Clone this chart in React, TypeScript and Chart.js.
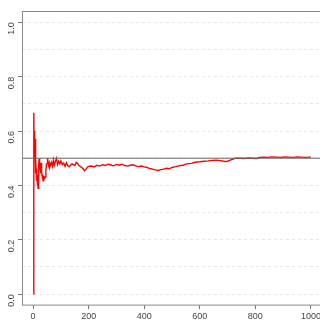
import React, { useEffect, useRef } from "react";
import { Chart, registerables } from "chart.js";

Chart.register(...registerables);

// Running proportion: trial number and proportion
const trialN = [
  1, 2, 3, 4, 5, 6, 7, 8, 9, 10, 11, 12, 13, 14, 15, 16, 17, 18, 19, 20,
  21, 22, 23, 24, 25, 26, 27, 28, 29, 30, 31, 32, 33, 34, 35, 36, 37, 38, 39, 40,
  42, 44, 46, 48, 50, 52, 55, 58, 60, 63, 66, 70, 73, 76, 80, 84, 88, 92, 96, 100,
  105, 110, 115, 120, 125, 130, 135, 140, 145, 150, 155, 160, 165, 170, 175, 180, 185, 190, 195, 200,
  210, 220, 230, 240, 250, 260, 270, 280, 290, 300, 310, 320, 330, 340, 350, 360, 370, 380, 390, 400,
  410, 420, 430, 440, 450, 460, 470, 480, 490, 500, 510, 520, 530, 540, 550, 560, 570, 580, 590, 600,
  615, 630, 645, 660, 675, 690, 700, 710, 720, 730, 745, 760, 775, 790, 805, 815, 830, 845, 860, 875,
  890, 905, 920, 935, 950, 965, 980, 1000,
];
const proportion = [
  0, 0.5, 0.667, 0.5, 0.6, 0.5, 0.571, 0.5, 0.444, 0.5, 0.455, 0.417, 0.462, 0.429, 0.4, 0.438, 0.412, 0.389, 0.421, 0.45,
  0.476, 0.5, 0.478, 0.458, 0.48, 0.462, 0.444, 0.464, 0.483, 0.467, 0.452, 0.438, 0.424, 0.441, 0.429, 0.417, 0.432, 0.421, 0.436, 0.425,
  0.429, 0.432, 0.457, 0.479, 0.48, 0.5, 0.473, 0.483, 0.467, 0.476, 0.485, 0.471, 0.493, 0.474, 0.488, 0.5, 0.477, 0.489, 0.479, 0.49,
  0.476, 0.482, 0.47, 0.483, 0.472, 0.469, 0.474, 0.479, 0.476, 0.473, 0.484, 0.481, 0.473, 0.47, 0.466, 0.461, 0.454, 0.458, 0.467, 0.47,
  0.471, 0.468, 0.474, 0.471, 0.476, 0.473, 0.478, 0.475, 0.472, 0.477, 0.474, 0.478, 0.473, 0.471, 0.474, 0.476, 0.472, 0.469, 0.471, 0.468,
  0.466, 0.462, 0.46, 0.457, 0.455, 0.458, 0.46, 0.463, 0.461, 0.466, 0.468, 0.471, 0.473, 0.474, 0.478, 0.48, 0.481, 0.484, 0.486, 0.487,
  0.489, 0.49, 0.492, 0.493, 0.491, 0.488, 0.489, 0.493, 0.497, 0.5, 0.5, 0.499, 0.501, 0.5, 0.499, 0.503, 0.504, 0.503, 0.505, 0.504,
  0.503, 0.505, 0.504, 0.503, 0.505, 0.504, 0.503, 0.504,
];
const referenceLevel = 0.5;
const xTickValues = [0, 200, 400, 600, 800, 1000];
const yGridValues = [0, 0.1, 0.2, 0.3, 0.4, 0.5, 0.6, 0.7, 0.8, 0.9, 1.0];
const yLabelValues = [0, 0.2, 0.4, 0.6, 0.8, 1.0];

const boxPlugin = {
  id: "boxPlugin",
  afterDraw(chart: any) {
    const { ctx, chartArea } = chart;
    ctx.save();
    ctx.strokeStyle = "#8a8a8a";
    ctx.lineWidth = 1;
    ctx.strokeRect(
      Math.round(chartArea.left) + 0.5,
      Math.round(chartArea.top) + 0.5,
      chartArea.right - chartArea.left,
      chartArea.bottom - chartArea.top
    );
    ctx.restore();
  },
};

export default function App() {
  const ref = useRef<HTMLCanvasElement>(null);
  useEffect(() => {
    if (!ref.current) return;
    const isLabel = (v: number) =>
      yLabelValues.some((l) => Math.abs(l - v) < 1e-9);
    const chart = new Chart(ref.current, {
      type: "line",
      data: {
        datasets: [
          {
            data: [
              { x: -40, y: referenceLevel },
              { x: 1040, y: referenceLevel },
            ],
            borderColor: "#666666",
            borderWidth: 1,
            pointRadius: 0,
          },
          {
            data: trialN.map((n, i) => ({ x: n, y: proportion[i] })),
            borderColor: "#ff0000",
            borderWidth: 1.4,
            pointRadius: 0,
            tension: 0,
          },
        ],
      },
      options: {
        animation: false,
        responsive: false,
        devicePixelRatio: 1,
        layout: { padding: { top: 6, right: 8, left: 0, bottom: 0 } },
        plugins: { legend: { display: false }, tooltip: { enabled: false } },
        scales: {
          x: {
            type: "linear",
            min: -40,
            max: 1040,
            afterBuildTicks: (s: any) => {
              s.ticks = xTickValues.map((v) => ({ value: v }));
            },
            afterFit: (s: any) => {
              s.height = 15;
            },
            grid: {
              drawOnChartArea: false,
              drawTicks: true,
              tickLength: 4,
              tickColor: "#777777",
            },
            border: { display: false },
            ticks: {
              color: "#444444",
              font: { family: "Liberation Sans", size: 9 },
              padding: 2,
              maxRotation: 0,
              callback: (v: any) => String(v),
            },
          },
          y: {
            type: "linear",
            min: -0.04,
            max: 1.04,
            afterBuildTicks: (s: any) => {
              s.ticks = yGridValues.map((v) => ({ value: v }));
            },
            afterFit: (s: any) => {
              s.width = 22;
            },
            grid: {
              color: "#e6e6e6",
              lineWidth: 1,
              drawTicks: true,
              tickLength: 4,
              tickColor: (c: any) =>
                c.tick && isLabel(c.tick.value) ? "#777777" : "rgba(0,0,0,0)",
            },
            border: { display: false, dash: [3, 3] },
            ticks: {
              color: "#444444",
              font: { family: "Liberation Sans", size: 9 },
              padding: 6,
              minRotation: 90,
              maxRotation: 90,
              callback: (v: any) => (isLabel(Number(v)) ? Number(v).toFixed(1) : ""),
            },
          },
        },
      },
      plugins: [boxPlugin],
    });
    return () => chart.destroy();
  }, []);
  return (
    <div
      style={{
        position: "fixed",
        left: 0,
        top: 0,
        width: 320,
        height: 320,
        overflow: "hidden",
        background: "#ffffff",
      }}
    >
      <canvas ref={ref} width={330} height={320} style={{ display: "block" }} />
    </div>
  );
}
